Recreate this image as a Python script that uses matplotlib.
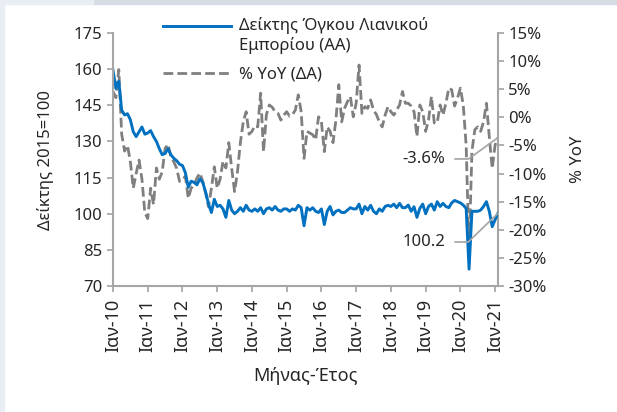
import matplotlib
matplotlib.use('Agg')
import matplotlib.pyplot as plt
from matplotlib.legend_handler import HandlerLine2D
from matplotlib.patches import Rectangle

plt.rcParams['font.family'] = ['Noto Sans', 'DejaVu Sans']
plt.rcParams['font.size'] = 12

# monthly data, Jan 2010 .. Feb 2021
months = list(range(134))
tick_pos = [0, 12, 24, 36, 48, 60, 72, 84, 96, 108, 120, 132]
tick_labels = ['Ιαν-10', 'Ιαν-11', 'Ιαν-12', 'Ιαν-13', 'Ιαν-14', 'Ιαν-15',
               'Ιαν-16', 'Ιαν-17', 'Ιαν-18', 'Ιαν-19', 'Ιαν-20', 'Ιαν-21']

# retail trade volume index (2015=100), left axis
retail_index = [
    159.6, 152, 155, 143, 141, 141.5, 139, 134, 132, 134, 136, 133,          # 2010
    133.5, 134.5, 132, 130, 127, 124.5, 125, 127, 124.5, 123, 122, 120.5,    # 2011
    120, 117, 111, 113.5, 113, 112, 114.5, 113, 109, 104, 100.5, 106,        # 2012
    103, 103.5, 102, 98.5, 105.5, 101.5, 100, 101, 102.5, 101, 103.5, 101.5, # 2013
    101, 102, 101, 102.5, 100, 102, 102.5, 101.5, 103, 101.5, 101, 102,      # 2014
    102, 101, 102, 101.5, 103.5, 102.5, 95, 102.5, 101.5, 102.5, 101, 100.5, # 2015
    102, 95.5, 101, 103, 99.5, 101, 101.5, 100.5, 100.5, 101.5, 102.5, 102,  # 2016
    102, 104, 100, 103, 101.5, 103.5, 101, 100, 102, 101, 103, 103.5,        # 2017
    103, 104, 102.5, 104.3, 102.5, 102.5, 103.6, 101, 102.9, 98.5, 102.2, 104, # 2018
    100, 103, 104, 101.5, 105, 103, 104.3, 103, 102.5, 104.5, 105.5, 105,    # 2019
    104.5, 103.6, 102.2, 77, 101, 101, 101, 101.5, 103, 105, 101, 94.6,      # 2020
    97.5, 100.2,                                                             # 2021
]

# year-on-year change (%), right axis
yoy = [
    4.6, 3.5, 8.5, -3, -6, -5, -7.9, -12.6, -10, -7.6, -11, -17,
    -18, -12.6, -15.5, -9, -11, -9.7, -5.5, -4.8, -7, -7.9, -9.1, -11.4,
    -11, -10.5, -14.4, -12.6, -12, -10.8, -9.9, -11.4, -13.5, -15.9, -12.6, -8.8,
    -12.6, -11, -7.8, -9, -4.5, -9.1, -13.2, -9.7, -4.5, -0.8, 1, -3,
    -2.5, -1.5, -1.7, 4.3, -6.1, 0.5, 2.2, 1.8, 1, 0.7, -0.5, 0.4,
    1, 0.2, 0.5, 1.3, 4, 1, -7.3, -2.5, -2.8, -3.1, -4, 0.1,
    -0.8, -6.1, -1.7, -2.5, -4.5, -0.5, 5.8, -0.8, 1.6, 2.8, 3.7, 0.1,
    2.5, 9.3, 0.7, 1.9, 1.6, 3.1, 1.3, 0.5, -0.8, -1.7, 0.4, 1.9,
    1, 0.4, 1.3, 2.2, 4.6, 2.5, 2.5, 2, 1, -3.4, 2.2, 1,
    -2.5, -0.5, 3.7, -1, -1, 2.2, 0.4, 2.5, 5.2, 4.9, 2, 3.4,
    5.2, 2.2, -5, -24, -6, -2.2, -1.7, -2.5, -0.8, 2.5, -3.5, -9.1,
    -4.9, -3.6,
]

blue = '#0070c0'
grey = '#7f7f7f'
axis_grey = '#a6a6a6'
text_col = '#262626'


class TopLineHandler(HandlerLine2D):
    # put the legend line level with the first line of a two-line label
    def create_artists(self, legend, orig_handle, xdescent, ydescent,
                       width, height, fontsize, trans):
        return super().create_artists(legend, orig_handle, xdescent,
                                      ydescent - 14.4, width, height,
                                      fontsize, trans)


fig = plt.figure(figsize=(6.17, 4.12), dpi=100)
fig.patches.append(Rectangle((0, 0), 4 / 617, 1, transform=fig.transFigure,
                             color='#e9eef5', zorder=0))
fig.patches.append(Rectangle((93 / 617, 1 - 4 / 412), 1, 4 / 412,
                             transform=fig.transFigure, color='#d6dce3', zorder=0))
fig.patches.append(Rectangle((0, 1 - 4 / 412), 93 / 617, 4 / 412,
                             transform=fig.transFigure, color='#e9eef5', zorder=0))

ax = fig.add_axes([113 / 617, 1 - 286 / 412, 385 / 617, 253 / 412])
ax2 = ax.twinx()
ax.set_zorder(ax2.get_zorder() + 1)
ax.patch.set_visible(False)

line_idx, = ax.plot(months, retail_index, color=blue, lw=2.1,
                    label='Δείκτης Όγκου Λιανικού\nΕμπορίου (ΑΑ)')
line_yoy, = ax2.plot(months, yoy, color=grey, lw=2, dashes=(3.5, 1.5),
                     label='% YoY (ΔΑ)')

ax.set_xlim(0, 133)
ax.set_ylim(70, 175)
ax.set_yticks(range(70, 176, 15))
ax.set_xticks(tick_pos)
ax.set_xticklabels(tick_labels, rotation=90)
ax2.set_ylim(-30, 15)
ax2.set_yticks(range(-30, 16, 5))
ax2.set_yticklabels([f'{v}%' for v in range(-30, 16, 5)])

for a in (ax, ax2):
    for s in a.spines.values():
        s.set_visible(False)
    a.tick_params(direction='out', length=4, width=1.25, color=axis_grey,
                  labelcolor=text_col, labelsize=12)
for s in ('left', 'bottom'):
    ax.spines[s].set_visible(True)
    ax.spines[s].set_color(axis_grey)
    ax.spines[s].set_linewidth(1.5)
ax2.spines['right'].set_visible(True)
ax2.spines['right'].set_color(axis_grey)
ax2.spines['right'].set_linewidth(1.5)
ax.tick_params(axis='x', pad=5, labelsize=13)

ax.set_ylabel('Δείκτης 2015=100', color=text_col, fontsize=12)
ax.yaxis.set_label_coords(-0.153, 0.5)
ax2.set_ylabel('% YoY', color=text_col, fontsize=12, rotation=90)
ax2.yaxis.set_label_coords(1.187, 0.5)
ax.set_xlabel('Μήνας-Έτος', color=text_col, fontsize=13)
ax.xaxis.set_label_coords(0.5, -0.32)

leg = ax.legend(handles=[line_idx, line_yoy], loc='upper left',
                bbox_to_anchor=(0.13, 1.063), frameon=False, borderpad=0,
                borderaxespad=0, handlelength=4.1, handletextpad=0.45,
                labelspacing=0.8, fontsize=12,
                handler_map={line_idx: TopLineHandler()})
for t in leg.get_texts():
    t.set_color(text_col)

leader = dict(arrowstyle='-', color=axis_grey, lw=1.25, shrinkA=5, shrinkB=0)
ax2.annotate(f'{yoy[-1]}%', xy=(months[-1], yoy[-1]), xytext=(-38, -15.4),
             textcoords='offset points', ha='right', va='center',
             color=text_col, fontsize=12,
             arrowprops=dict(leader, connectionstyle='angle,angleA=0,angleB=36'))
ax.annotate(f'{retail_index[-1]}', xy=(months[-1], retail_index[-1]),
            xytext=(-38, -20.7), textcoords='offset points', ha='right',
            va='center', color=text_col, fontsize=12,
            arrowprops=dict(leader, connectionstyle='angle,angleA=0,angleB=44'))

fig.savefig('out.png', dpi=100)
